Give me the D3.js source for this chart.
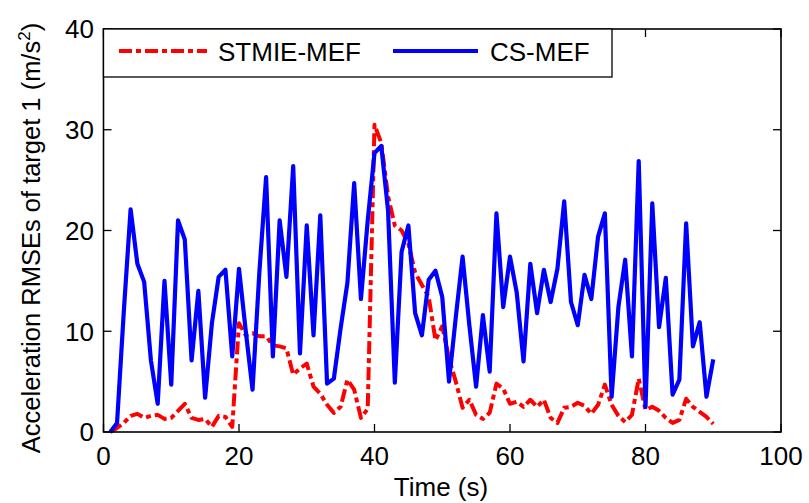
<!DOCTYPE html>
<html><head><meta charset="utf-8">
<script src="https://cdn.jsdelivr.net/npm/d3@7"></script>
<style>
html,body{margin:0;padding:0;background:#fff;}
text{font-family:"Liberation Sans",Arial,Helvetica,sans-serif;fill:#000;}
</style></head>
<body>
<svg id="chart" width="809" height="503"></svg>
<script>
const time = d3.range(1, 91);
const stmieMef = [0,0.4,0.9,1.6,1.8,1.4,1.6,1.7,1.3,1.4,2.1,2.8,1.4,1.2,1.3,0.5,1.6,1.5,0.5,10.8,
  9.6,9.8,9.5,9.5,8.6,8.5,8.3,5.7,6.3,6.8,4.5,3.8,2.7,1.9,2.5,5.2,4.2,1.4,2.3,30.5,
  28.7,23.4,20.5,20.0,18.7,15.8,14.6,13.4,9.1,10.5,7.3,5.0,2.4,3.2,1.7,1.3,1.9,4.8,4.3,2.8,
  3.0,2.5,3.2,2.5,3.2,1.4,0.9,2.4,2.5,2.9,2.6,1.8,2.7,4.7,2.7,1.6,1.0,1.7,5.3,2.2,
  2.5,2.1,1.4,0.9,1.2,3.3,2.5,2.0,1.5,0.8];
const csMef = [0,0.9,12,22.1,16.7,14.9,7.1,2.8,15.0,4.7,21.0,19.1,7.1,14.0,3.4,10.8,15.4,16.1,7.5,16.2,
  10.0,4.2,15.8,25.3,7.5,21.0,15.4,26.4,7.8,20.5,9.6,21.5,4.8,5.3,10.3,14.8,24.7,13.2,21.0,27.7,
  28.4,22.0,4.9,17.9,20.5,11.8,9.6,15.1,16.0,13.4,5.0,11.4,17.4,10.6,4.5,11.6,6.0,21.7,12.4,17.4,
  13.8,7.0,16.7,11.8,16.1,12.9,16.2,22.9,12.9,10.6,15.6,13.2,19.4,21.7,3.5,12.4,17.1,7.5,26.9,2.5,
  22.7,10.4,15.3,3.7,5.2,20.7,8.5,10.9,3.5,7.2];
const xTicks = [0,20,40,60,80,100];
const yTicks = [0,10,20,30,40];
const seriesNames = ["STMIE-MEF","CS-MEF"];
const seriesColors = ["#ff0000","#0000ff"];

const svg = d3.select("#chart");
const L = 103.5, R = 781, T = 29, B = 432;
const x = d3.scaleLinear().domain([0,100]).range([L,R]);
const y = d3.scaleLinear().domain([0,40]).range([B,T]);

svg.append("rect").attr("x",0).attr("y",0).attr("width",809).attr("height",503).attr("fill","#fff");

const line = d3.line().x((d,i)=>x(time[i])).y(d=>y(d));
const g = svg.append("g");
g.append("path").datum(stmieMef).attr("d",line).attr("fill","none")
  .attr("stroke",seriesColors[0]).attr("stroke-width",4).attr("stroke-dasharray","13,4,5,4").attr("stroke-linejoin","round");
g.append("path").datum(csMef).attr("d",line).attr("fill","none")
  .attr("stroke",seriesColors[1]).attr("stroke-width",4.2).attr("stroke-linejoin","round");

// axes
const tl = 8;
const ax = svg.append("g").attr("stroke","#000").attr("stroke-width",1.3);
xTicks.forEach(t=>{
  ax.append("line").attr("x1",x(t)).attr("x2",x(t)).attr("y1",B).attr("y2",B-tl);
  ax.append("line").attr("x1",x(t)).attr("x2",x(t)).attr("y1",T).attr("y2",T+tl);
});
yTicks.forEach(t=>{
  ax.append("line").attr("x1",L).attr("x2",L+tl).attr("y1",y(t)).attr("y2",y(t));
  ax.append("line").attr("x1",R).attr("x2",R-tl).attr("y1",y(t)).attr("y2",y(t));
});
svg.append("rect").attr("x",L).attr("y",T).attr("width",R-L).attr("height",B-T)
  .attr("fill","none").attr("stroke","#000").attr("stroke-width",1.6);

const fs = 26;
svg.append("g").selectAll("text").data(xTicks).join("text")
  .attr("x",d=>x(d)).attr("y",465).attr("text-anchor","middle").attr("font-size",fs).text(d=>d);
svg.append("g").selectAll("text").data(yTicks).join("text")
  .attr("x",94).attr("y",d=>y(d)).attr("dy","0.36em").attr("text-anchor","end").attr("font-size",fs).text(d=>d);

svg.append("text").attr("x",441).attr("y",496).attr("text-anchor","middle").attr("font-size",fs).text("Time (s)");
const yl = svg.append("text").attr("transform","translate(40,238) rotate(-90)").attr("text-anchor","middle").attr("font-size",25.5);
yl.append("tspan").text("Acceleration RMSEs of target 1 (m/s");
yl.append("tspan").attr("font-size",17).attr("dy",-10).text("2");
yl.append("tspan").attr("dy",10).text(")");

// legend
const lg = svg.append("g");
lg.append("rect").attr("x",L).attr("y",T).attr("width",612-L).attr("height",77-T)
  .attr("fill","#fff").attr("stroke","#000").attr("stroke-width",1.3);
lg.append("line").attr("x1",119).attr("x2",207).attr("y1",51).attr("y2",51)
  .attr("stroke",seriesColors[0]).attr("stroke-width",4).attr("stroke-dasharray","13,4,5,4");
lg.append("text").attr("x",218).attr("y",61).attr("font-size",fs).text(seriesNames[0]);
lg.append("line").attr("x1",393).attr("x2",478).attr("y1",51).attr("y2",51)
  .attr("stroke",seriesColors[1]).attr("stroke-width",4.2);
lg.append("text").attr("x",490).attr("y",61).attr("font-size",fs).text(seriesNames[1]);
</script>
</body></html>
